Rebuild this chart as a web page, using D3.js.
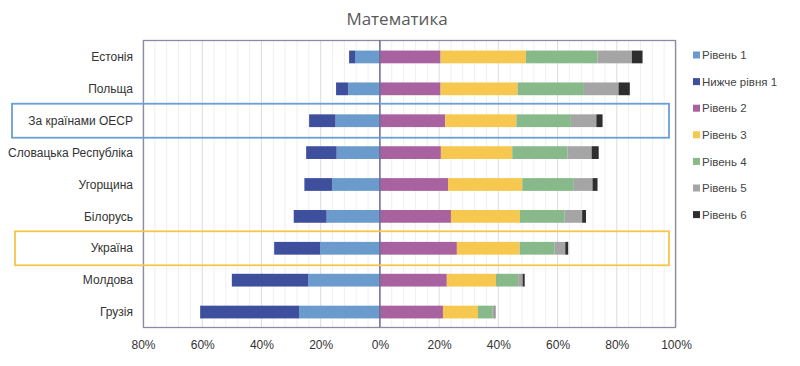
<html>
<head>
	<meta charset="utf-8">
	<script src="https://d3js.org/d3.v7.min.js"></script>
	<style>
		body { margin: 0; background: #fff; }
		.title { font: 17px "Open Sans", sans-serif; fill: #595959; }
		.country { font: 12px "Liberation Sans", Arial, sans-serif; fill: #333; }
		.tick text { font: 12px "Liberation Sans", Arial, sans-serif; fill: #333; }
		.legend text { font: 11.5px "Liberation Sans", Arial, sans-serif; fill: #444; }
	</style>
</head>
<body>
	<script>

		var countries = ["Естонія", "Польща", "За країнами ОЕСР", "Словацька Республіка", "Угорщина",
			"Білорусь", "Україна", "Молдова", "Грузія"];

		// shares in %, left of zero
		var level1 = [8.4, 10.7, 15.0, 14.6, 16.1, 18.0, 20.2, 24.2, 27.3];
		var belowLevel1 = [2.0, 4.1, 8.9, 10.3, 9.4, 11.1, 15.5, 25.8, 33.4];
		// right of zero
		var level2 = [20.5, 20.5, 22.1, 20.6, 23.0, 24.0, 26.0, 22.6, 21.3];
		var level3 = [28.8, 26.0, 24.0, 24.1, 25.1, 23.3, 21.2, 16.6, 11.8];
		var level4 = [24.2, 22.4, 18.4, 18.6, 17.4, 15.1, 11.7, 7.5, 5.0];
		var level5 = [11.6, 11.7, 8.6, 8.2, 6.3, 5.9, 3.7, 1.5, 0.7];
		var level6 = [3.6, 3.8, 2.1, 2.4, 1.7, 1.3, 1.0, 0.7, 0.2];

		var legendNames = ["Рівень 1", "Нижче рівня 1", "Рівень 2", "Рівень 3", "Рівень 4", "Рівень 5", "Рівень 6"];
		var colors = ["#6b9bcc", "#3e4f9e", "#a8629f", "#f6c84f", "#87b98b", "#a5a5a5", "#2e2e2e"];
		var xTicks = [-80, -60, -40, -20, 0, 20, 40, 60, 80, 100];

		// highlighted rows: OECD blue, Ukraine yellow
		var highlights = [{name: "За країнами ОЕСР", color: "#6a9fd6", x0: 12}, {name: "Україна", color: "#f5c64a", x0: 15}];

		var width = 800,
		height = 366;

		var svg = d3.select("body").append("svg")
		.attr("width", width)
		.attr("height", height);

		var x = d3.scaleLinear().domain([-80, 100]).range([143, 676]);
		var y = d3.scaleBand().domain(countries).range([41, 328]).paddingInner(0.6).paddingOuter(0.3);

		svg.append("text")
		.attr("class", "title")
		.attr("x", 397)
		.attr("y", 25)
		.attr("text-anchor", "middle")
		.text("Математика");

		// grid every 4%, darker every 20%
		var grid = d3.range(-80, 101, 4);
		svg.selectAll(".grid")
		.data(grid)
		.enter().append("line")
		.attr("class", "grid")
		.attr("x1", function(d) { return x(d); })
		.attr("x2", function(d) { return x(d); })
		.attr("y1", 40)
		.attr("y2", 327)
		.attr("stroke", function(d) { return d % 20 == 0 ? "#dcdcdc" : "#efefef"; })
		.attr("stroke-width", 1);

		// stacks
		var rows = countries.map(function(c, i) {
			return [
				{x0: -level1[i], x1: 0, c: 0},
				{x0: -level1[i] - belowLevel1[i], x1: -level1[i], c: 1},
				{x0: 0, x1: level2[i], c: 2},
				{x0: level2[i], x1: level2[i] + level3[i], c: 3},
				{x0: level2[i] + level3[i], x1: level2[i] + level3[i] + level4[i], c: 4},
				{x0: level2[i] + level3[i] + level4[i], x1: level2[i] + level3[i] + level4[i] + level5[i], c: 5},
				{x0: level2[i] + level3[i] + level4[i] + level5[i], x1: level2[i] + level3[i] + level4[i] + level5[i] + level6[i], c: 6}
			].map(function(s) { s.country = c; return s; });
		});

		svg.selectAll(".row")
		.data(rows)
		.enter().append("g")
		.attr("class", "row")
		.selectAll("rect")
		.data(function(d) { return d; })
		.enter().append("rect")
		.attr("x", function(d) { return x(d.x0); })
		.attr("width", function(d) { return x(d.x1) - x(d.x0); })
		.attr("y", function(d) { return y(d.country); })
		.attr("height", y.bandwidth())
		.attr("fill", function(d) { return colors[d.c]; });

		// plot frame
		svg.append("rect")
		.attr("x", 143.5)
		.attr("y", 40.5)
		.attr("width", 532)
		.attr("height", 287)
		.attr("fill", "none")
		.attr("stroke", "#8d89a6")
		.attr("stroke-width", 1.3);

		svg.append("line")
		.attr("x1", x(0))
		.attr("x2", x(0))
		.attr("y1", 40)
		.attr("y2", 327)
		.attr("stroke", "#6e6b94")
		.attr("stroke-width", 1.5);

		// country labels
		svg.selectAll(".country")
		.data(countries)
		.enter().append("text")
		.attr("class", "country")
		.attr("x", 133)
		.attr("y", function(d) { return y(d) + y.bandwidth() / 2; })
		.attr("dy", ".35em")
		.attr("text-anchor", "end")
		.text(function(d) { return d; });

		// x axis
		var xAxis = d3.axisBottom(x)
		.tickValues(xTicks)
		.tickSize(0)
		.tickPadding(13)
		.tickFormat(function(d) { return Math.abs(d) + "%"; });

		svg.append("g")
		.attr("transform", "translate(0,327)")
		.call(xAxis)
		.call(function(g) { g.select(".domain").remove(); });

		// highlight boxes
		svg.selectAll(".hl")
		.data(highlights)
		.enter().append("rect")
		.attr("class", "hl")
		.attr("x", function(d) { return d.x0; })
		.attr("y", function(d) { return y(d.name) + y.bandwidth() / 2 - 17; })
		.attr("width", function(d) { return 669 - d.x0; })
		.attr("height", 34)
		.attr("fill", "none")
		.attr("stroke", function(d) { return d.color; })
		.attr("stroke-width", 1.8);

		// legend
		var legend = svg.append("g")
		.attr("class", "legend")
		.selectAll("g")
		.data(legendNames)
		.enter().append("g")
		.attr("transform", function(d, i) { return "translate(693," + (55 + i * 26.6) + ")"; });

		legend.append("rect")
		.attr("x", 0)
		.attr("y", -3.5)
		.attr("width", 7)
		.attr("height", 7)
		.attr("fill", function(d, i) { return colors[i]; });

		legend.append("text")
		.attr("x", 9)
		.attr("dy", ".36em")
		.text(function(d) { return d; });

	</script>
</body>
</html>
